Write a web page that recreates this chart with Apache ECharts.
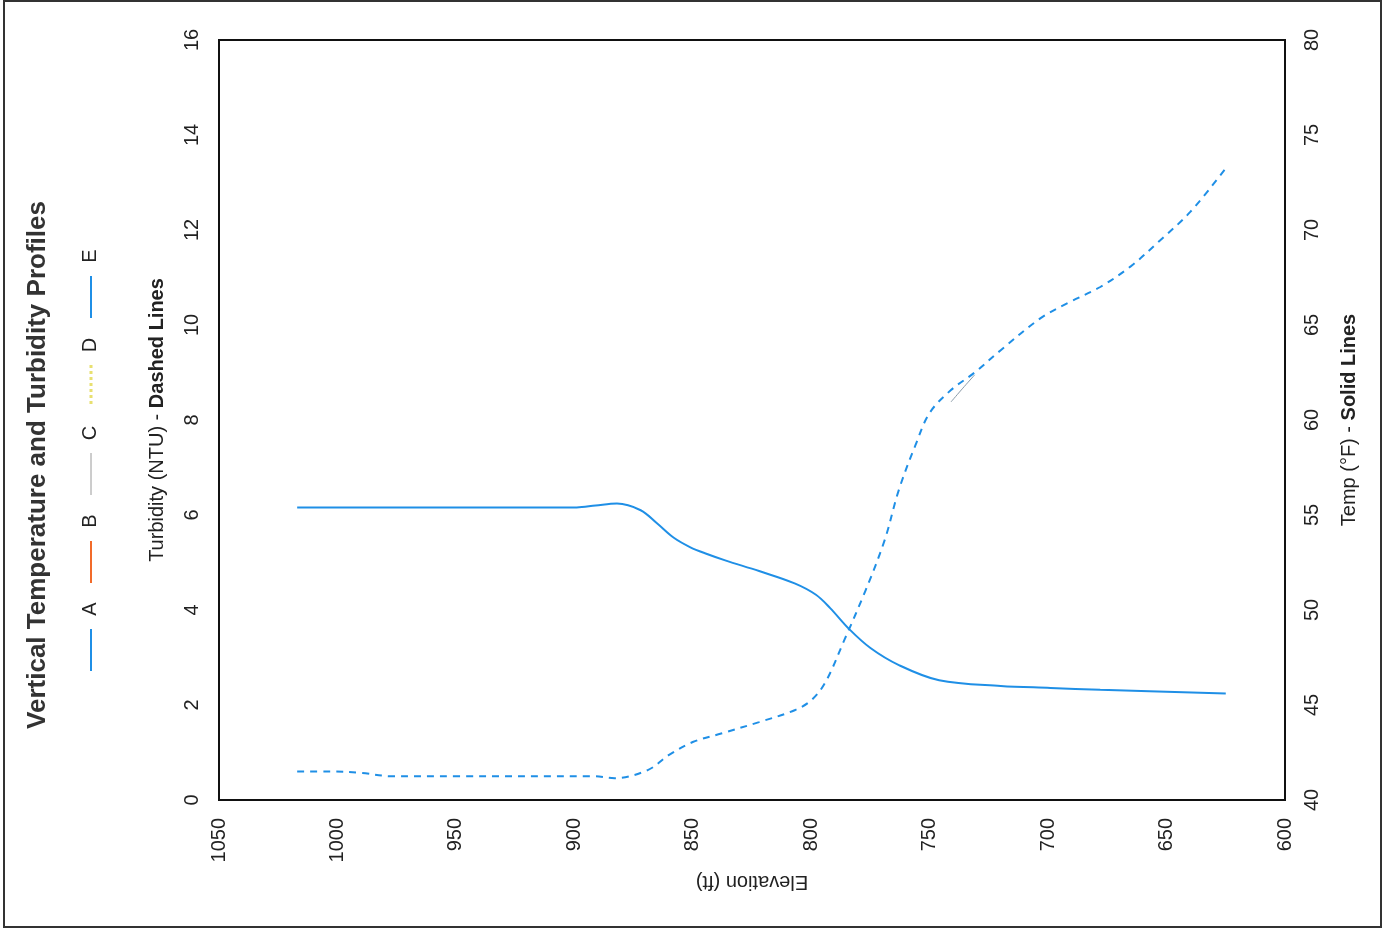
<!DOCTYPE html>
<html>
<head>
<meta charset="utf-8">
<script src="https://cdn.jsdelivr.net/npm/echarts@6/dist/echarts.min.js"></script>
<style>
html,body{margin:0;padding:0;background:#fff;}
#chart{width:1386px;height:933px;}
</style>
</head>
<body>
<div id="chart"></div>
<script>
// ---- data ----
const titleText = 'Vertical Temperature and Turbidity Profiles';
const legendNames = ['A', 'B', 'C', 'D', 'E'];
const elevTicks = [600, 1050, 50];   // min, max, step
const turbTicks = [0, 16, 2];
const tempTicks = [40, 80, 5];

const tempElev = [1017, 950, 899, 891, 882, 872, 865, 858, 851, 844, 836, 822, 807, 798, 792, 784, 775, 763, 746, 720, 699, 678, 625];
const tempE    = [55.4, 55.4, 55.4, 55.5, 55.6, 55.25, 54.55, 53.8, 53.3, 52.95, 52.6, 52.05, 51.4, 50.8, 50.1, 49.0, 48.0, 47.1, 46.3, 46.0, 45.9, 45.8, 45.6];

const turbElev = [1017, 1003, 990, 977, 950, 892, 883, 869, 860, 850, 838, 822, 807, 800, 794, 786, 777, 769, 763, 756, 750, 741, 731, 720, 703, 691, 678, 665, 653, 640, 625];
const turbE    = [0.60, 0.60, 0.57, 0.50, 0.50, 0.50, 0.46, 0.63, 0.95, 1.22, 1.40, 1.64, 1.89, 2.10, 2.48, 3.37, 4.42, 5.47, 6.53, 7.47, 8.15, 8.63, 9.00, 9.47, 10.15, 10.48, 10.80, 11.24, 11.77, 12.38, 13.30];

const turbCElev = [741, 736, 731];
const turbC     = [8.38, 8.67, 8.95];

const pair = (xs, ys) => xs.map((x, i) => [x, ys[i]]);

// ---- chart ----
const chart = echarts.init(document.getElementById('chart'));
const FONT = '"Liberation Sans", Arial, sans-serif';
const BLUE = '#1f8fe6';
const TXT = '#222';

const legendColors = ['#1f8fe6', '#f26b2a', '#9a9a9a', '#e8e070', '#1f8fe6'];
const legendLetterY = [609, 521, 433, 345, 256];
const legendGraphics = [];
legendNames.forEach((n, i) => {
  const y = legendLetterY[i];
  const isC = i === 2, isD = i === 3;
  legendGraphics.push({
    type: 'line',
    shape: { x1: 91, y1: y + 20, x2: 91, y2: y + 62 },
    style: {
      stroke: legendColors[i],
      lineWidth: isC ? 1 : (isD ? 3 : 2),
      lineDash: isD ? [3, 3] : null
    },
    silent: true
  });
  legendGraphics.push({
    type: 'text',
    x: 90, y: y,
    rotation: Math.PI / 2,
    style: { text: n, font: '20px ' + FONT, fill: TXT, align: 'center', verticalAlign: 'middle' },
    silent: true
  });
});

const richName = {
  n: { fontFamily: FONT, fontSize: 20, color: TXT },
  b: { fontFamily: FONT, fontSize: 20, fontWeight: 'bold', color: TXT }
};

chart.setOption({
  backgroundColor: '#fff',
  animation: false,
  grid: { left: 219, right: 101, top: 40, bottom: 133, show: false },
  graphic: [
    {
      type: 'rect',
      shape: { x: 4, y: 1, width: 1377, height: 926 },
      style: { fill: 'none', stroke: '#333', lineWidth: 2 },
      silent: true
    },
    {
      type: 'rect',
      shape: { x: 219, y: 40, width: 1066, height: 760 },
      style: { fill: 'none', stroke: '#111', lineWidth: 2 },
      silent: true, z: 10
    },
    {
      type: 'text',
      x: 38, y: 465,
      rotation: Math.PI / 2,
      style: { text: titleText, font: 'bold 26px ' + FONT, fill: '#333', align: 'center', verticalAlign: 'middle' },
      silent: true
    }
  ].concat(legendGraphics),
  xAxis: {
    type: 'value',
    min: elevTicks[0], max: elevTicks[1], interval: elevTicks[2],
    inverse: true,
    name: 'Elevation (ft)',
    nameLocation: 'middle',
    nameRotate: 180,
    nameGap: 72,
    nameTextStyle: { fontFamily: FONT, fontSize: 20, color: TXT },
    axisLine: { show: true, lineStyle: { color: '#111', width: 2 } },
    axisTick: { show: false },
    splitLine: { show: false },
    axisLabel: { rotate: 90, margin: 18, fontFamily: FONT, fontSize: 20, color: TXT, formatter: v => String(v) }
  },
  yAxis: [
    {
      type: 'value',
      min: turbTicks[0], max: turbTicks[1], interval: turbTicks[2],
      name: '{n|Turbidity (NTU) - }{b|Dashed Lines}',
      nameLocation: 'middle',
      nameRotate: 90,
      nameGap: 52,
      nameTextStyle: { rich: richName },
      axisLine: { show: true, lineStyle: { color: '#111', width: 2 } },
      axisTick: { show: false },
      splitLine: { show: false },
      axisLabel: { rotate: 90, margin: 17, fontFamily: FONT, fontSize: 20, color: TXT }
    },
    {
      type: 'value',
      position: 'right',
      min: tempTicks[0], max: tempTicks[1], interval: tempTicks[2],
      name: '{n|Temp (°F) - }{b|Solid Lines}',
      nameLocation: 'middle',
      nameRotate: 90,
      nameGap: 54,
      nameTextStyle: { rich: richName },
      axisLine: { show: true, lineStyle: { color: '#111', width: 2 } },
      axisTick: { show: false },
      splitLine: { show: false },
      axisLabel: { rotate: 90, margin: 17, fontFamily: FONT, fontSize: 20, color: TXT }
    }
  ],
  series: [
    {
      name: 'E', type: 'line', yAxisIndex: 1,
      data: pair(tempElev, tempE),
      smooth: 0.35, showSymbol: false,
      lineStyle: { color: BLUE, width: 2 }
    },
    {
      name: 'E turbidity', type: 'line', yAxisIndex: 0,
      data: pair(turbElev, turbE),
      smooth: 0.35, showSymbol: false,
      lineStyle: { color: BLUE, width: 2, type: [7, 6] }
    },
    {
      name: 'C turbidity', type: 'line', yAxisIndex: 0,
      data: pair(turbCElev, turbC),
      smooth: 0.3, showSymbol: false,
      lineStyle: { color: '#8a9aa8', width: 1 }
    }
  ]
});
</script>
</body>
</html>
